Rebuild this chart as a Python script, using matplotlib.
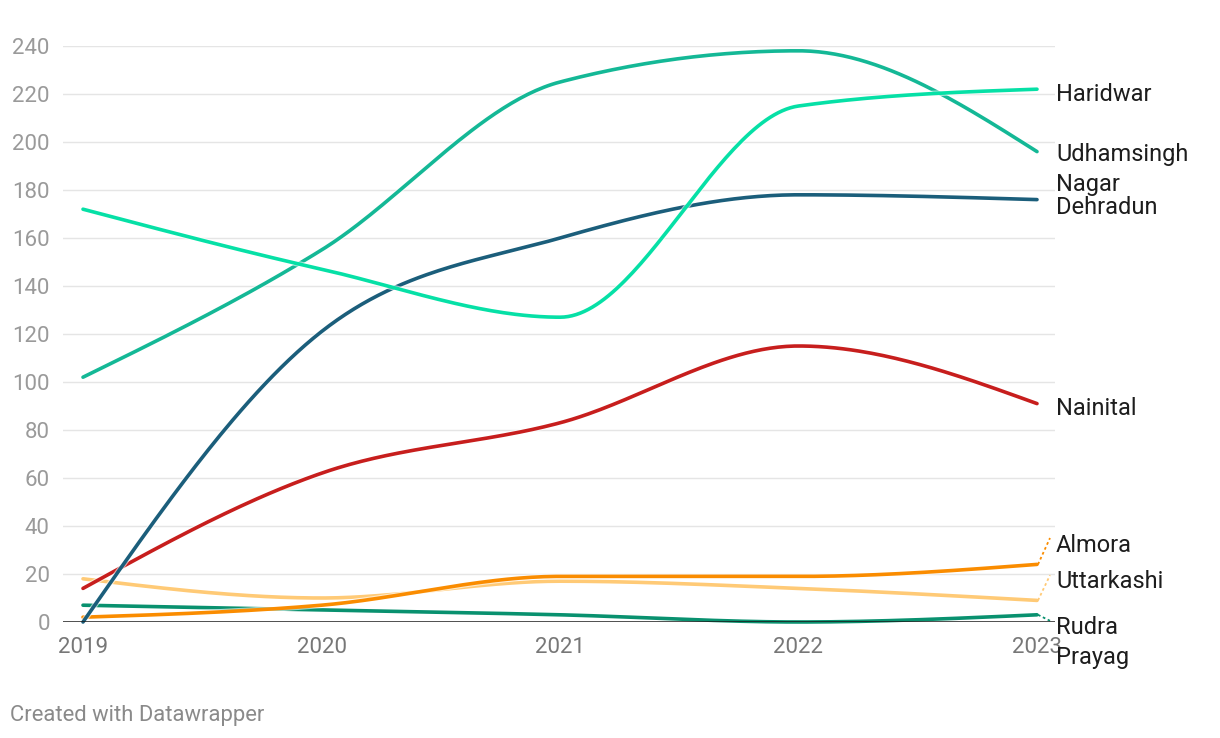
import numpy as np
import matplotlib
matplotlib.use("Agg")
import matplotlib.pyplot as plt
import matplotlib.patheffects as pe

plt.rcParams['font.family'] = ['Roboto', 'DejaVu Sans']

years = [2019, 2020, 2021, 2022, 2023]
series_names = ["Haridwar", "Udhamsingh Nagar", "Dehradun", "Nainital",
                "Almora", "Uttarkashi", "Rudra Prayag"]
haridwar = [172, 147, 127, 215, 222]
udhamsingh_nagar = [102, 155, 225, 238, 196]
dehradun = [0, 121, 160, 178, 176]
nainital = [14, 62, 83, 115, 91]
almora = [2, 7, 19, 19, 24]
uttarkashi = [18, 10, 17, 14, 9]
rudra_prayag = [7, 5, 3, 0, 3]
yticks = [0, 20, 40, 60, 80, 100, 120, 140, 160, 180, 200, 220, 240]

colors = {
    "Haridwar": "#06e0a6",
    "Udhamsingh Nagar": "#14b896",
    "Dehradun": "#1b5e7b",
    "Nainital": "#c71e1d",
    "Almora": "#fa8c00",
    "Uttarkashi": "#ffca76",
    "Rudra Prayag": "#09916f",
}
values = {
    "Haridwar": haridwar,
    "Udhamsingh Nagar": udhamsingh_nagar,
    "Dehradun": dehradun,
    "Nainital": nainital,
    "Almora": almora,
    "Uttarkashi": uttarkashi,
    "Rudra Prayag": rudra_prayag,
}


def monotone_x(xs, ys, n=60):
    """d3 curveMonotoneX rendering of a polyline."""
    xs = np.asarray(xs, float)
    ys = np.asarray(ys, float)
    m = len(xs)
    h = np.diff(xs)
    s = np.diff(ys) / h
    t = np.zeros(m)
    for i in range(1, m - 1):
        h0, h1 = h[i - 1], h[i]
        s0, s1 = s[i - 1], s[i]
        p = (s0 * h1 + s1 * h0) / (h0 + h1)
        t[i] = (np.sign(s0) + np.sign(s1)) * min(abs(s0), abs(s1), 0.5 * abs(p))
    t[0] = (3 * s[0] - t[1]) / 2
    t[-1] = (3 * s[-1] - t[-2]) / 2
    X, Y = [], []
    for i in range(m - 1):
        u = np.linspace(0, 1, n)
        dx = h[i]
        h00 = 2 * u**3 - 3 * u**2 + 1
        h10 = u**3 - 2 * u**2 + u
        h01 = -2 * u**3 + 3 * u**2
        h11 = u**3 - u**2
        X.append(xs[i] + u * dx)
        Y.append(h00 * ys[i] + h10 * dx * t[i] + h01 * ys[i + 1] + h11 * dx * t[i + 1])
    return np.concatenate(X), np.concatenate(Y)


W, H = 1220, 738
fig = plt.figure(figsize=(W / 100, H / 100), dpi=100)
ax_left, ax_right, ax_top, ax_bottom = 63, 1055, 46, 622
ax = fig.add_axes([ax_left / W, 1 - ax_bottom / H, (ax_right - ax_left) / W,
                   (ax_bottom - ax_top) / H])

px_per_year = (1037 - 83) / 4
ax.set_xlim(2019 - (83 - ax_left) / px_per_year, 2023 + (ax_right - 1037) / px_per_year)
ax.set_ylim(0, 240)

for v in yticks[1:]:
    ax.axhline(v, color="#e5e5e5", lw=1.0, zorder=0)
ax.axhline(0, color="#1a1a1a", lw=1.8, zorder=5)

draw_order = ["Rudra Prayag", "Uttarkashi", "Almora", "Nainital", "Dehradun",
              "Udhamsingh Nagar", "Haridwar"]
for name in draw_order:
    x, y = monotone_x(years, values[name])
    ax.plot(x, y, color=colors[name], lw=2.6, solid_capstyle="round", zorder=3,
            clip_on=False,
            path_effects=[pe.Stroke(linewidth=4.2, foreground="white", alpha=0.6), pe.Normal()])

# end labels (positions offset from end value for readability)
label_pos = {
    "Haridwar": [("Haridwar", 219.6)],
    "Udhamsingh Nagar": [("Udhamsingh", 194.6), ("Nagar", 182.5)],
    "Dehradun": [("Dehradun", 172.5)],
    "Nainital": [("Nainital", 88.8)],
    "Almora": [("Almora", 31.7)],
    "Uttarkashi": [("Uttarkashi", 16.7)],
    "Rudra Prayag": [("Rudra", -2.5), ("Prayag", -14.6)],
}
xlab = 2023 + (1056 - 1037) / px_per_year
for name, items in label_pos.items():
    for txt, yy in items:
        ax.text(xlab, yy, txt, fontsize=17, color="#1d1d1d", va="center", ha="left",
                clip_on=False)

# dotted connectors for displaced labels
xc0 = 2023 + 1 / px_per_year
xc1 = 2023 + 13 / px_per_year
for name, target in [("Almora", 35), ("Uttarkashi", 19.5), ("Rudra Prayag", 0.5)]:
    ax.plot([xc0, xc1], [values[name][-1], target], color=colors[name], lw=1.3,
            ls=(0, (1.5, 1.5)), clip_on=False, zorder=4)

ax.set_yticks(yticks)
ax.set_yticklabels([str(v) for v in yticks])
ax.set_xticks(years)
ax.set_xticklabels([str(y) for y in years])
ax.tick_params(axis="y", length=0, pad=9.5, labelsize=16, labelcolor="#9a9a9a")
ax.tick_params(axis="x", length=0, pad=11, labelsize=16, labelcolor="#777777")
for sp in ax.spines.values():
    sp.set_visible(False)

fig.text(10 / W, 1 - 715 / H, "Created with Datawrapper", fontsize=15.8, color="#8a8a8a",
         va="center", ha="left")

fig.savefig("out.png", dpi=100, facecolor="white")
